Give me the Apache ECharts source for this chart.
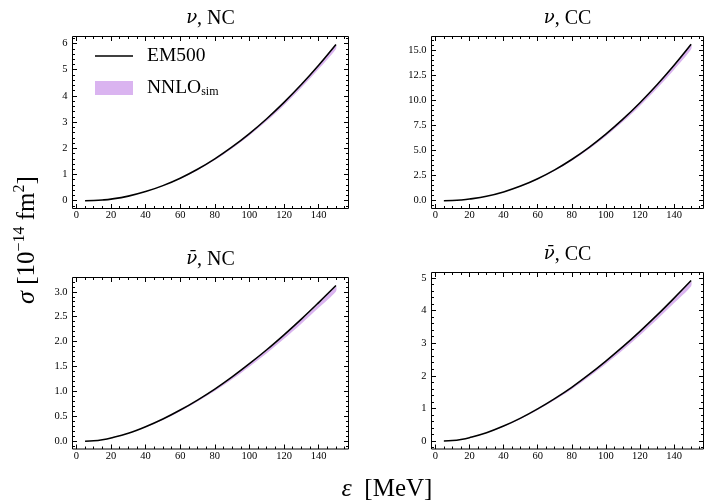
<!DOCTYPE html>
<html><head><meta charset="utf-8">
<script src="https://cdn.jsdelivr.net/npm/echarts@6/dist/echarts.min.js"></script>
<style>html,body{margin:0;padding:0;background:#fff}#c{width:706px;height:502px}</style>
</head><body><div id="c"></div>
<script>
// ---------- data ----------
const energy = [5,10,15,20,30,40,50,60,70,80,90,100,110,120,130,140,150];

const nuNC_EM500   = [0,0.008,0.027,0.06,0.175,0.347,0.575,0.859,1.200,1.598,2.052,2.562,3.129,3.753,4.433,5.169,5.962];
const nuNC_nnloLo  = [0,0.008,0.026,0.058,0.170,0.337,0.559,0.835,1.166,1.553,1.995,2.490,3.041,3.648,4.309,5.024,5.795];
const nuNC_nnloHi  = [0,0.008,0.027,0.060,0.174,0.345,0.572,0.855,1.194,1.590,2.042,2.549,3.113,3.734,4.411,5.143,5.932];

const nuCC_EM500   = [0,0.02,0.07,0.16,0.44,0.871,1.452,2.184,3.066,4.099,5.283,6.617,8.102,9.737,11.523,13.46,15.547];
const nuCC_nnloLo  = [0,0.019,0.068,0.155,0.426,0.843,1.406,2.114,2.968,3.968,5.114,6.405,7.843,9.425,11.154,13.029,15.05];
const nuCC_nnloHi  = [0,0.02,0.07,0.159,0.438,0.867,1.445,2.173,3.051,4.079,5.257,6.584,8.061,9.688,11.465,13.393,15.469];

const nubarNC_EM500  = [0,0.008,0.03,0.065,0.16,0.29,0.445,0.625,0.826,1.046,1.291,1.556,1.836,2.136,2.451,2.783,3.125];
const nubarNC_nnloLo = [0,0.008,0.029,0.063,0.154,0.279,0.428,0.601,0.795,1.006,1.242,1.497,1.766,2.055,2.358,2.677,3.006];
const nubarNC_nnloHi = [0,0.008,0.03,0.064,0.159,0.288,0.441,0.62,0.819,1.038,1.281,1.544,1.821,2.119,2.431,2.761,3.1];

const nubarCC_EM500  = [0,0.013,0.047,0.102,0.252,0.456,0.700,0.984,1.300,1.646,2.032,2.449,2.890,3.362,3.858,4.380,4.919];
const nubarCC_nnloLo = [0,0.013,0.045,0.098,0.243,0.44,0.676,0.95,1.255,1.588,1.961,2.363,2.789,3.244,3.723,4.227,4.747];
const nubarCC_nnloHi = [0,0.013,0.047,0.101,0.25,0.452,0.694,0.976,1.29,1.633,2.016,2.429,2.867,3.335,3.827,4.345,4.88];

const xTicks = [0,20,40,60,80,100,120,140];
const yTicks_nuNC = [0,1,2,3,4,5,6];
const yTicks_nuCC = [0,2.5,5,7.5,10,12.5,15];
const yTicks_nubarNC = [0,0.5,1,1.5,2,2.5,3];
const yTicks_nubarCC = [0,1,2,3,4,5];

const titleNu = ['ν', 'ν', 'ν\u0304', 'ν\u0304'];
const titleChannel = [', NC', ', CC', ', NC', ', CC'];

// ---------- layout / style ----------
const FONT = '"Liberation Serif","DejaVu Serif",serif';
const BAND = '#dab4f0';
const XMIN = -2.25, XMAX = 157.25;
const X_MINOR_STEP = 5;

const panels = [
  {left:72.5, top:36.5, width:276, height:172, ymin:-0.2985, ymax:6.2685, ticks:yTicks_nuNC, minor:0.2, dec:0, em:nuNC_EM500, lo:nuNC_nnloLo, hi:nuNC_nnloHi},
  {left:431.5, top:36.5, width:272, height:172, ymin:-0.7775, ymax:16.3275, ticks:yTicks_nuCC, minor:0.5, dec:1, em:nuCC_EM500, lo:nuCC_nnloLo, hi:nuCC_nnloHi},
  {left:72.5, top:277.5, width:276, height:171.5, ymin:-0.1565, ymax:3.2865, ticks:yTicks_nubarNC, minor:0.1, dec:1, em:nubarNC_EM500, lo:nubarNC_nnloLo, hi:nubarNC_nnloHi},
  {left:431.5, top:272.5, width:272, height:176.5, ymin:-0.246, ymax:5.166, ticks:yTicks_nubarCC, minor:0.2, dec:0, em:nubarCC_EM500, lo:nubarCC_nnloLo, hi:nubarCC_nnloHi}
];

function steps(min, max, step) {
  const out = [];
  const k0 = Math.ceil(min / step - 1e-9), k1 = Math.floor(max / step + 1e-9);
  for (let k = k0; k <= k1; k++) out.push(+(k * step).toFixed(6));
  return out;
}

function axis(kind, g, pos, min, max, values, len, labelFmt) {
  const a = {
    type: 'value', gridIndex: g, position: pos, min: min, max: max, scale: true,
    axisLine: {show: false, onZero: false},
    splitLine: {show: false},
    axisTick: {show: true, inside: true, length: len, customValues: values, lineStyle: {color: '#000', width: 1}},
    axisLabel: {show: false}
  };
  if (labelFmt) {
    a.axisLabel = {show: true, customValues: values, margin: kind === 'x' ? 1.5 : 5, fontSize: 10.5,
      fontFamily: FONT, color: '#000', formatter: labelFmt};
  }
  return a;
}

const grid = [], xAxis = [], yAxis = [], series = [], graphic = [];
const xMinor = steps(XMIN, XMAX, X_MINOR_STEP);

panels.forEach((p, g) => {
  grid.push({left: p.left, top: p.top, width: p.width, height: p.height, show: true,
    borderColor: '#000', borderWidth: 1, backgroundColor: 'transparent', containLabel: false, outerBoundsMode: 'none'});
  const xi = xAxis.length, yi = yAxis.length;
  xAxis.push(axis('x', g, 'bottom', XMIN, XMAX, xTicks, 4.5, v => String(Math.round(v))));
  xAxis.push(axis('x', g, 'bottom', XMIN, XMAX, xMinor, 2.5));
  xAxis.push(axis('x', g, 'top', XMIN, XMAX, xTicks, 4.5));
  xAxis.push(axis('x', g, 'top', XMIN, XMAX, xMinor, 2.5));
  const yMinor = steps(p.ymin, p.ymax, p.minor);
  yAxis.push(axis('y', g, 'left', p.ymin, p.ymax, p.ticks, 4.5, v => (+v).toFixed(p.dec)));
  yAxis.push(axis('y', g, 'left', p.ymin, p.ymax, yMinor, 2.5));
  yAxis.push(axis('y', g, 'right', p.ymin, p.ymax, p.ticks, 4.5));
  yAxis.push(axis('y', g, 'right', p.ymin, p.ymax, yMinor, 2.5));

  // NNLO_sim band: one polygon placed through the library's coordinate system
  series.push({name: 'NNLO', type: 'custom', xAxisIndex: xi, yAxisIndex: yi, silent: true, z: 2,
    itemStyle: {color: BAND},
    data: energy.map((e, i) => [e, p.lo[i], p.hi[i]]),
    encode: {x: 0, y: [1, 2]},
    renderItem: function (params, api) {
      if (params.dataIndex !== 0) return null;
      const pts = [];
      for (let i = 0; i < energy.length; i++) pts.push(api.coord([energy[i], p.hi[i]]));
      for (let i = energy.length - 1; i >= 0; i--) pts.push(api.coord([energy[i], p.lo[i]]));
      return {type: 'polygon', shape: {points: pts, smooth: 0.3}, style: {fill: BAND, stroke: null}};
    }
  });
  series.push({name: 'EM500', type: 'line', xAxisIndex: xi, yAxisIndex: yi, silent: true,
    data: energy.map((e, i) => [e, p.em[i]]), symbol: 'none', smooth: 0.4,
    lineStyle: {color: '#000', width: 1.6}, itemStyle: {color: '#000'}, z: 3, animation: false});

  graphic.push({type: 'text', x: p.left + p.width / 2, y: p.top - 18,
    style: {text: '{i|' + titleNu[g] + '}{r|' + titleChannel[g] + '}', align: 'center', verticalAlign: 'middle',
      rich: {i: {fontFamily: '"DejaVu Serif",serif', fontStyle: 'italic', fontSize: 18, fill: '#000'},
             r: {fontFamily: FONT, fontSize: 20, fill: '#000'}}}});
});

graphic.push({type: 'text', x: 27, y: 240, rotation: Math.PI / 2,
  style: {text: '{i|σ}{r| [10}{s|−14}{r| fm}{s|2}{r|]}', align: 'center', verticalAlign: 'middle',
    rich: {i: {fontFamily: FONT, fontStyle: 'italic', fontSize: 26, fill: '#000', lineHeight: 30},
           r: {fontFamily: FONT, fontSize: 25, fill: '#000', lineHeight: 30},
           s: {fontFamily: FONT, fontSize: 16, fill: '#000', verticalAlign: 'top', lineHeight: 17}}}});
graphic.push({type: 'text', x: 387, y: 489,
  style: {text: '{i|ε}{r|  [MeV]}', align: 'center', verticalAlign: 'middle',
    rich: {i: {fontFamily: FONT, fontStyle: 'italic', fontSize: 26, fill: '#000'},
           r: {fontFamily: FONT, fontSize: 25, fill: '#000'}}}});

const chart = echarts.init(document.getElementById('c'), null, {renderer: 'canvas'});
chart.setOption({
  animation: false,
  backgroundColor: '#fff',
  grid, xAxis, yAxis, series, graphic,
  legend: {
    show: true, orient: 'vertical', left: 90, top: 41, itemWidth: 38, itemHeight: 14, itemGap: 12,
    selectedMode: false, symbolKeepAspect: true,
    data: [
      {name: 'EM500', icon: 'path://M0,0H40V1.6H0Z', itemStyle: {color: '#000'}},
      {name: 'NNLO', icon: 'rect', itemStyle: {color: BAND}}
    ],
    formatter: n => n === 'NNLO' ? '{a|NNLO}{s|sim}' : '{a|EM500}',
    textStyle: {fontFamily: FONT, color: '#000', fontSize: 19.5,
      rich: {a: {fontFamily: FONT, fontSize: 19.5, fill: '#000', lineHeight: 20, padding: [0, 0, 0, 9]},
             s: {fontFamily: FONT, fontSize: 12, fill: '#000', verticalAlign: 'bottom', lineHeight: 14, padding: [6, 0, 0, 0]}}}
  }
});
</script>
</body></html>
